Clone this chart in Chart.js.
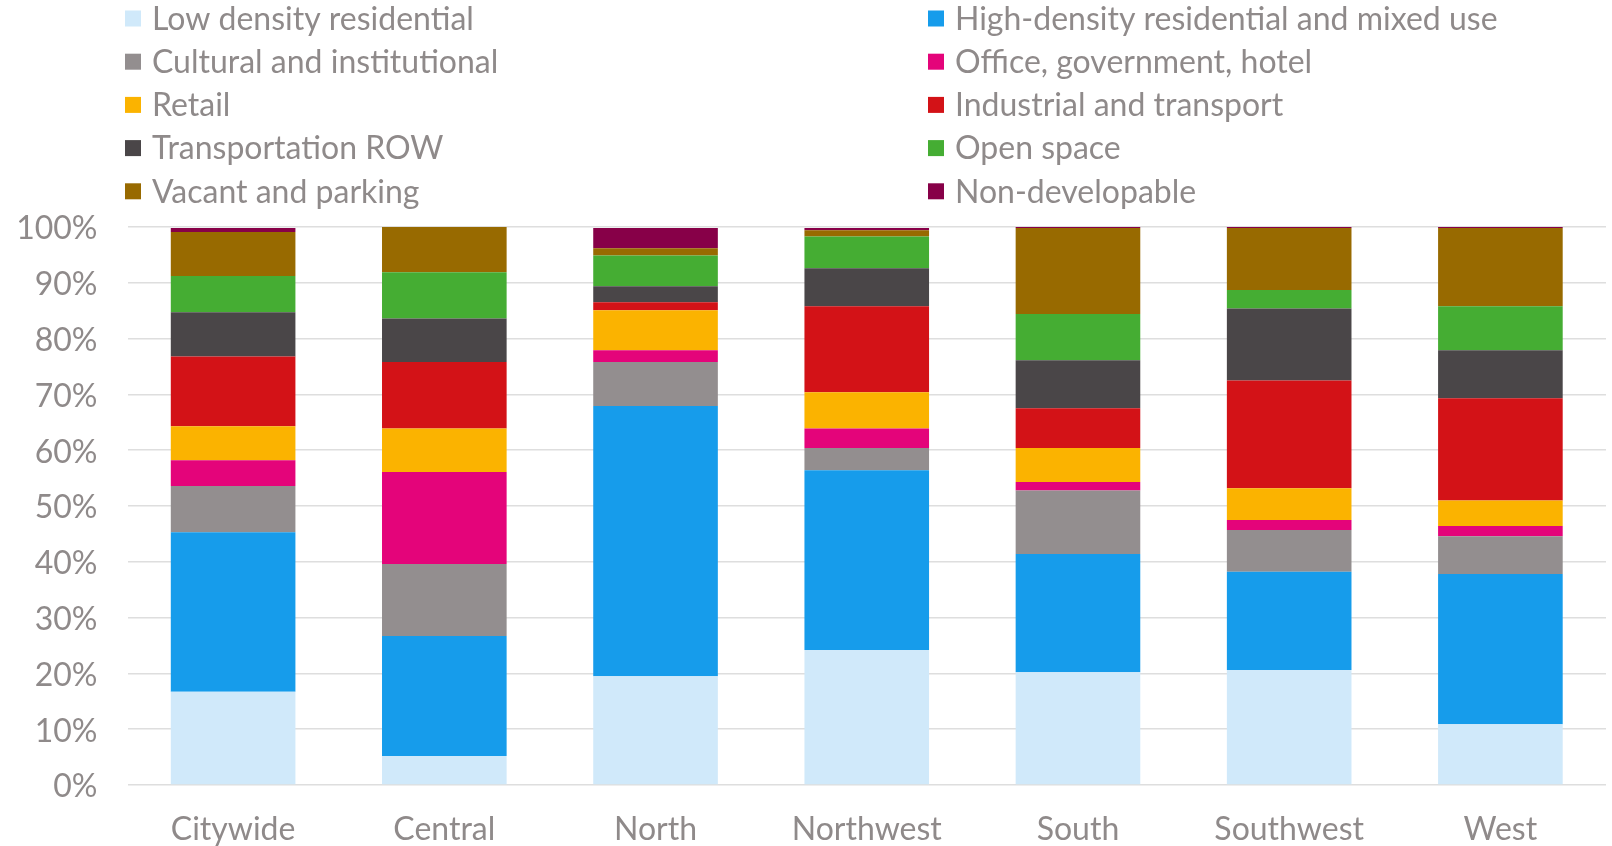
<!DOCTYPE html>
<html>
<head>
<meta charset="utf-8">
<script src="https://cdn.jsdelivr.net/npm/chart.js@4"></script>
<style>
  html, body { margin: 0; padding: 0; background: #fff; }
  #wrap { width: 1612px; height: 846px; position: relative; }
</style>
</head>
<body>
<div id="wrap"><canvas id="land-chart"></canvas></div>
<script>
// Areas along the x axis
const areas = ['Citywide', 'Central', 'North', 'Northwest', 'South', 'Southwest', 'West'];

// Land use shares (%) per area, bottom of stack first
const lowDensity    = [16.7,  5.2, 19.5, 24.2, 20.2, 20.6, 10.9];
const highDensity   = [28.6, 21.5, 48.4, 32.2, 21.2, 17.6, 26.9];
const cultural      = [ 8.3, 12.9,  7.9,  4.0, 11.4,  7.5,  6.8];
const office        = [ 4.6, 16.5,  2.1,  3.5,  1.5,  1.8,  1.8];
const retail        = [ 6.1,  7.8,  7.2,  6.5,  6.1,  5.7,  4.6];
const industrial    = [12.5, 11.9,  1.4, 15.4,  7.1, 19.3, 18.3];
const transportROW  = [ 7.9,  7.8,  2.9,  6.8,  8.6, 12.9,  8.6];
const openSpace     = [ 6.5,  8.3,  5.5,  5.7,  8.3,  3.3,  7.9];
const vacantParking = [ 7.9,  8.3,  1.3,  1.1, 15.4, 11.1, 14.0];
const nonDev        = [ 0.7,  0.3,  3.6,  0.4,  0.3,  0.3,  0.3];

const yTicks = [0, 10, 20, 30, 40, 50, 60, 70, 80, 90, 100];

const seriesNames = [
    'Low density residential', 'High-density residential and mixed use',
    'Cultural and institutional', 'Office, government, hotel',
    'Retail', 'Industrial and transport',
    'Transportation ROW', 'Open space',
    'Vacant and parking', 'Non-developable'
];
const seriesData = [lowDensity, highDensity, cultural, office, retail,
    industrial, transportROW, openSpace, vacantParking, nonDev];
const seriesColors = ['#d0e9fa', '#169ceb', '#938e8f', '#e4047a', '#fbb300',
    '#d31217', '#4a4648', '#45ad33', '#986a00', '#870048'];

const textColor = '#8f8a8a';
const fontFamily = 'Lato, "Open Sans", sans-serif';
const fontSize = 32;

// Two-column legend drawn on the canvas, items row by row like the original
const gridLegend = {
    id: 'gridLegend',
    afterDraw(chart) {
        const ctx = chart.ctx;
        const colX = [125, 928];
        const rowY0 = 18.5, rowStep = 43.2, box = 16;
        ctx.save();
        ctx.font = fontSize + 'px ' + fontFamily;
        ctx.textBaseline = 'middle';
        chart.data.datasets.forEach((ds, i) => {
            const x = colX[i % 2];
            const y = rowY0 + Math.floor(i / 2) * rowStep;
            ctx.fillStyle = ds.backgroundColor;
            ctx.fillRect(x, y - box / 2, box, box);
            ctx.fillStyle = textColor;
            ctx.fillText(ds.label, x + 27, y + 1);
        });
        ctx.restore();
    }
};

function initializeChart() {
    const ctx = document.getElementById('land-chart').getContext('2d');
    new Chart(ctx, {
        type: 'bar',
        data: {
            labels: areas,
            datasets: seriesNames.map((name, i) => ({
                label: name,
                data: seriesData[i],
                backgroundColor: seriesColors[i],
                borderWidth: 0,
                barPercentage: 0.59,
                categoryPercentage: 1.0
            }))
        },
        options: {
            responsive: true,
            maintainAspectRatio: false,
            animation: false,
            layout: { padding: { top: 227, right: 6, left: 0, bottom: 0 } },
            plugins: {
                legend: { display: false },
                tooltip: { enabled: false }
            },
            scales: {
                x: {
                    stacked: true,
                    grid: { display: false, drawTicks: false },
                    border: { display: false },
                    ticks: {
                        color: textColor,
                        font: { family: fontFamily, size: fontSize },
                        padding: 25,
                        maxRotation: 0
                    },
                    afterFit(scale) { scale.height = 61; }
                },
                y: {
                    stacked: true,
                    min: 0,
                    max: 100,
                    afterBuildTicks(scale) { scale.ticks = yTicks.map(v => ({ value: v })); },
                    grid: { color: '#dedede', lineWidth: 1.6, drawTicks: false },
                    border: { display: false },
                    ticks: {
                        color: textColor,
                        font: { family: fontFamily, size: fontSize },
                        padding: 30,
                        labelOffset: 2,
                        callback: v => v + '%'
                    },
                    afterFit(scale) { scale.width = 127.5; }
                }
            }
        },
        plugins: [gridLegend]
    });
}

window.onload = initializeChart;
</script>
</body>
</html>
